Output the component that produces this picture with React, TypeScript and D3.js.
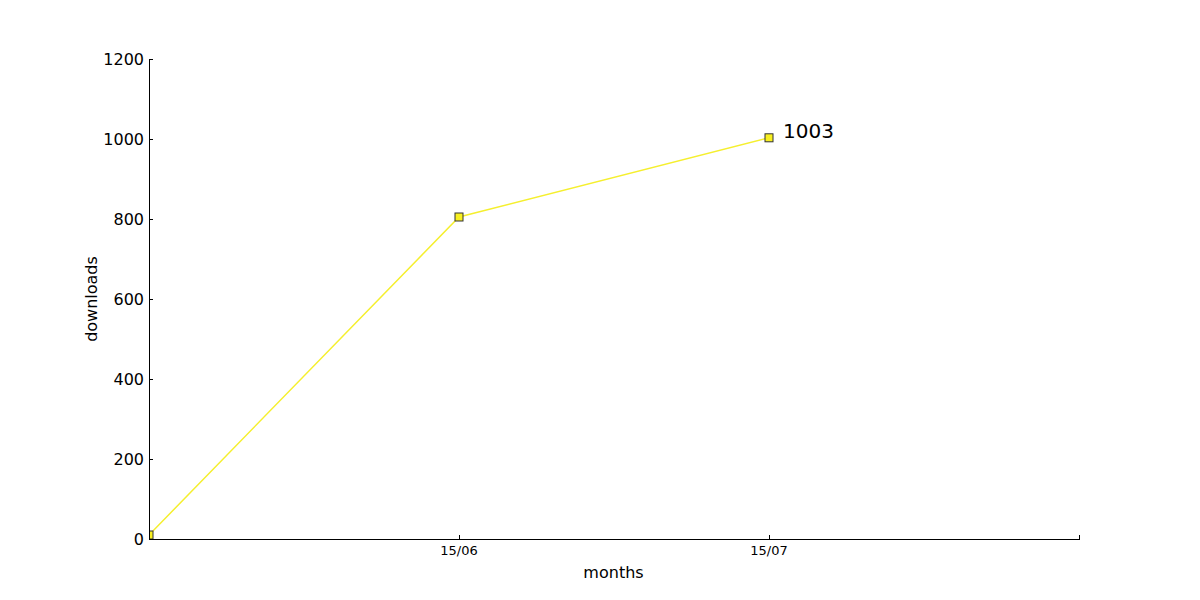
import React from "react";
import * as d3 from "d3";

const categories = ["", "15/06", "15/07", ""];
const values = [10, 805, 1003];
const yTicks = [0, 200, 400, 600, 800, 1000, 1200];
const annotation = { index: 2, text: "1003" };

export default function App() {
  const W = 1200, H = 600;
  const left = 149, right = 1079, top = 59, bottom = 539;
  const x = d3.scaleLinear().domain([0, categories.length - 1]).range([left, right]);
  const y = d3.scaleLinear().domain([0, 1200]).range([bottom, top]);
  const line = d3.line<number>().x((_, i) => x(i)).y((d) => y(d));
  const font = "DejaVu Sans, sans-serif";
  return (
    <svg width={W} height={H} style={{ position: "absolute", left: 0, top: 0, background: "#fff" }} fontFamily={font}>
      <defs>
        <clipPath id="plot">
          <rect x={left} y={top} width={right - left} height={bottom - top} />
        </clipPath>
      </defs>
      <g clipPath="url(#plot)">
        <path d={line(values) || ""} fill="none" stroke="#f5ef2e" strokeWidth={1.5} />
        {values.map((v, i) => (
          <rect key={i} x={x(i) - 4} y={y(v) - 4} width={8} height={8} fill="#f8f020" stroke="#333" strokeWidth={1} />
        ))}
      </g>
      <g shapeRendering="crispEdges">
        <line x1={left + 0.5} y1={top} x2={left + 0.5} y2={bottom} stroke="#000" strokeWidth={1} />
        <line x1={left} y1={bottom + 0.5} x2={right + 1} y2={bottom + 0.5} stroke="#000" strokeWidth={1} />
        {yTicks.map((t) => (
          <line key={t} x1={left} x2={left + 4} y1={y(t) + 0.5} y2={y(t) + 0.5} stroke="#000" />
        ))}
        {categories.map((c, i) =>
          i > 0 ? <line key={i} x1={x(i) + 0.5} x2={x(i) + 0.5} y1={bottom} y2={bottom - 4} stroke="#000" /> : null
        )}
      </g>
      {yTicks.map((t) => (
        <text key={t} x={left - 5} y={y(t)} textAnchor="end" dominantBaseline="central" fontSize={16}>{t}</text>
      ))}
      {categories.map((c, i) =>
        c ? <text key={i} x={x(i)} y={bottom + 16} textAnchor="middle" fontSize={13}>{c}</text> : null
      )}
      <text x={(left + right) / 2 - 0.5} y={578} textAnchor="middle" fontSize={16}>months</text>
      <text transform={`translate(97,${(top + bottom) / 2}) rotate(-90)`} textAnchor="middle" fontSize={16}>downloads</text>
      <text x={x(annotation.index) + 14} y={y(values[annotation.index])} fontSize={20}>{annotation.text}</text>
    </svg>
  );
}
